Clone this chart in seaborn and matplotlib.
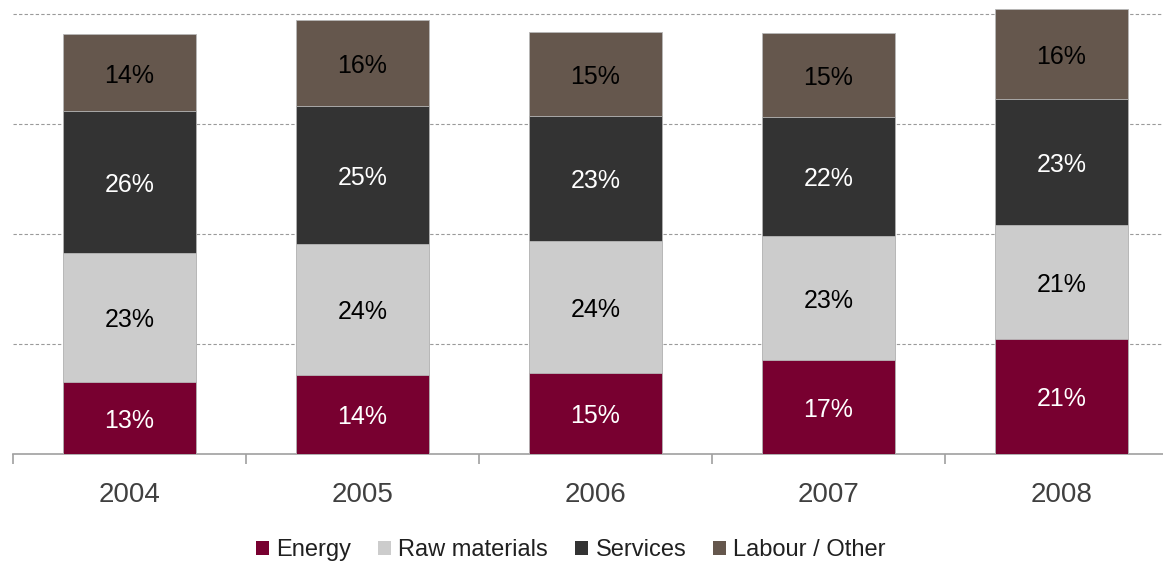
import numpy as np
import pandas as pd
import matplotlib
matplotlib.use("Agg")
import matplotlib.pyplot as plt
import seaborn as sns
from matplotlib.patches import Patch

years = ["2004", "2005", "2006", "2007", "2008"]
series = ["Energy", "Raw materials", "Services", "Labour / Other"]
energy = [13.1, 14.4, 14.7, 17.1, 20.9]
raw_materials = [23.4, 23.8, 24.0, 22.6, 20.7]
services = [25.8, 25.1, 22.7, 21.6, 22.9]
labour_other = [14.0, 15.6, 15.4, 15.3, 16.4]
colors = ["#780030", "#CCCCCC", "#333333", "#65574D"]
text_colors = ["white", "black", "white", "black"]

sns.set_theme(style="white")
plt.rcParams["font.family"] = ["Liberation Sans", "DejaVu Sans"]

values = [energy, raw_materials, services, labour_other]
df = pd.DataFrame({"year": years})
for name, v in zip(series, values):
    df[name] = v
cum = df[series].cumsum(axis=1)

fig = plt.figure(figsize=(11.63, 5.63), dpi=100)
ax = fig.add_axes([13 / 1163, (563 - 454) / 563, 1165 / 1163, 454 / 563])

# draw from top layer down so lower segments overlay
for i in range(len(series) - 1, -1, -1):
    sns.barplot(x=df["year"], y=cum[series[i]], color=colors[i], width=0.57,
                edgecolor="#b8b8b8", linewidth=0.6, ax=ax, saturation=1, zorder=3)

ax.set_ylim(0, 454 / 5.5)
ax.set_xlim(-0.5, 4.5)
ax.set_yticks([20, 40, 60, 80])
ax.set_yticklabels([])
ax.tick_params(axis="y", length=0)
ax.yaxis.grid(True, color="#9a9a9a", linestyle=(0, (3, 2)), linewidth=0.8, zorder=0)
ax.set_axisbelow(True)
ax.set_xlabel("")
ax.set_ylabel("")
for s in ["top", "right", "left"]:
    ax.spines[s].set_visible(False)
ax.spines["bottom"].set_color("#a0a0a0")
ax.spines["bottom"].set_linewidth(1.2)
ax.set_xticks(range(len(years)))
ax.set_xticklabels(years, fontsize=20, color="#404040")
ax.tick_params(axis="x", which="major", length=0, pad=20)
ax.set_xticks(np.arange(-0.5, 5, 1.0), minor=True)
ax.tick_params(axis="x", which="minor", bottom=True, length=7, width=1.2,
               color="#a0a0a0", direction="out")

# segment labels
for j in range(len(years)):
    bottom = 0
    for i, v in enumerate(values):
        ax.text(j, bottom + v[j] / 2 - 0.5, f"{round(v[j]):d}%", ha="center", va="center",
                fontsize=18, color=text_colors[i], zorder=5)
        bottom += v[j]

handles = [Patch(facecolor=c, edgecolor="none") for c in colors]
fig.legend(handles, series, loc="center", bbox_to_anchor=(571 / 1163, 1 - 550 / 563),
           ncol=4, frameon=False, fontsize=17, handlelength=0.55, handleheight=0.55,
           handletextpad=0.3, columnspacing=1.15, labelcolor="#202020")

fig.savefig("out.png", dpi=100)
